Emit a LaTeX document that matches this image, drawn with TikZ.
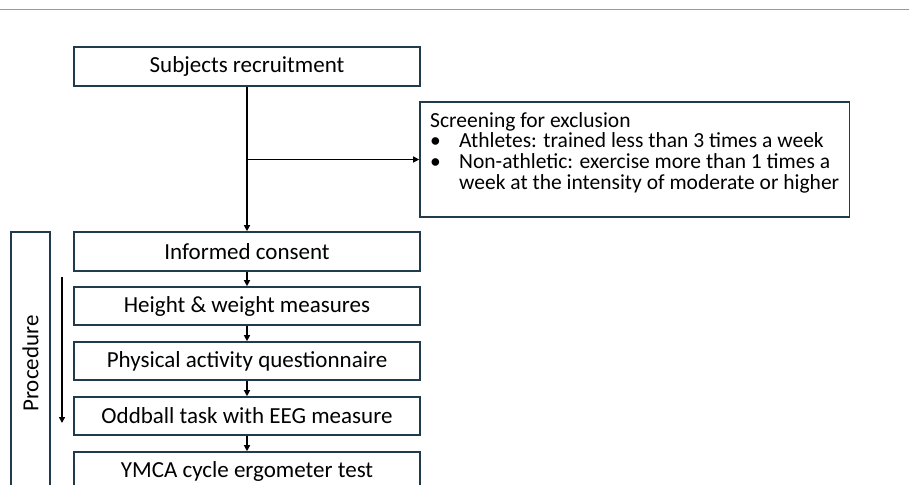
\documentclass[tikz,border=0pt]{standalone}
\usepackage{fontspec}
\setmainfont{Carlito}
\usetikzlibrary{calc, positioning, fit}
\usetikzlibrary{arrows.meta}
\definecolor{boxline}{HTML}{1F3B4C}

\begin{document}
\begin{tikzpicture}[x=1pt, y=-1pt,
  box/.style={draw=boxline, line width=1.6pt, minimum width=346pt, minimum height=38pt,
    inner sep=0pt, font=\fontsize{23}{21}\selectfont},
  arr/.style={-{Triangle[length=6pt, width=6pt]}, line width=1.3pt, black}]
\useasboundingbox (0,0) rectangle (909,484);

% top rule
\draw[gray!80, line width=1pt] (0,9.5) -- (909,9.5);

\node[box, minimum height=39pt] (subj) at (247,66.5) {Subjects recruitment};
\node[box, minimum height=39pt] (cons) at (247,251.5) {Informed consent};
\node[box] (hw)   at (247,306) {Height \& weight measures};
\node[box] (paq)  at (247,361) {Physical activity questionnaire};
\node[box] (odd)  at (247,416) {Oddball task with EEG measure};
\node[box] (ymca) at (247,471) {YMCA cycle ergometer test};

% screening text, then its frame
\node[anchor=north west, align=left, inner sep=0pt, font=\fontsize{21.5}{20.7}\selectfont]
  (screentxt) at (430,112)
  {Screening for exclusion\\
   \makebox[29pt][l]{\textbullet}Athletes: trained less than 3 times a week\\
   \makebox[29pt][l]{\textbullet}Non-athletic: exercise more than 1 times a\\
   \hspace*{29pt}week at the intensity of moderate or higher};
\node[draw=boxline, line width=1.6pt, inner xsep=10pt, inner ysep=0pt,
  fit={(screentxt.west |- 0,102) (screentxt.east |- 0,217)}] (screen) {};

\node[box, rotate=90, minimum width=263pt, minimum height=39pt] (proc) at (30.5,363.5) {Procedure};

\coordinate (branch) at (subj.south |- screen.west);
\coordinate (pstart) at (62,277);
\coordinate (pend) at (62,423);

\draw[arr] (subj.south) -- (cons.north);
\draw[arr] (branch) -- (screen.west);
\draw[arr] (cons.south) -- (hw.north);
\draw[arr] (hw.south) -- (paq.north);
\draw[arr] (paq.south) -- (odd.north);
\draw[arr] (odd.south) -- (ymca.north);
\draw[arr] (pstart) -- (pend);
\end{tikzpicture}
\end{document}
